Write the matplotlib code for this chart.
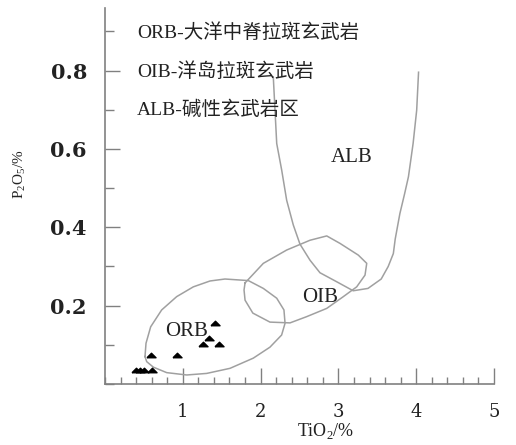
import numpy as np
import matplotlib; matplotlib.use("Agg"); import matplotlib.pyplot as plt
from matplotlib.ticker import MultipleLocator

# sample points (TiO2 %, P2O5 %)
tio2 = [0.40, 0.45, 0.50, 0.60, 0.59, 0.93, 1.41, 1.34, 1.26, 1.47]
p2o5 = [0.035, 0.035, 0.035, 0.035, 0.074, 0.074, 0.155, 0.117, 0.102, 0.102]

# discrimination field boundaries
orb_x = [0.514, 0.527, 0.587, 0.728, 0.921, 1.135, 1.35, 1.542, 1.842, 2.035, 2.207, 2.30, 2.314,
         2.27, 2.12, 1.906, 1.607, 1.307, 1.05, 0.793, 0.621, 0.536, 0.514]
orb_y = [0.070, 0.104, 0.146, 0.189, 0.223, 0.248, 0.263, 0.268, 0.264, 0.244, 0.219, 0.189, 0.155,
         0.125, 0.094, 0.066, 0.040, 0.027, 0.023, 0.029, 0.043, 0.057, 0.070]
oib_x = [1.80, 2.035, 2.335, 2.635, 2.85, 3.02, 3.256, 3.364, 3.342, 3.235, 3.063, 2.85, 2.593,
         2.378, 2.12, 1.90, 1.80, 1.787, 1.80]
oib_y = [0.258, 0.308, 0.342, 0.367, 0.378, 0.359, 0.329, 0.308, 0.278, 0.248, 0.223, 0.193, 0.172,
         0.156, 0.158, 0.181, 0.214, 0.240, 0.258]
alb_x = [2.163, 2.185, 2.207, 2.271, 2.335, 2.42, 2.506, 2.635, 2.763, 2.978, 3.19, 3.38, 3.55,
         3.64, 3.706, 3.73, 3.79, 3.85, 3.90, 3.96, 4.006, 4.03]
alb_y = [0.784, 0.699, 0.614, 0.546, 0.469, 0.406, 0.357, 0.316, 0.284, 0.261, 0.238, 0.244, 0.268,
         0.300, 0.333, 0.370, 0.435, 0.485, 0.529, 0.614, 0.699, 0.796]

legend_lines = ["ORB-大洋中脊拉斑玄武岩", "OIB-洋岛拉斑玄武岩", "ALB-碱性玄武岩区"]
fields = [("ORB", 1.05, 0.135), ("OIB", 2.76, 0.222), ("ALB", 3.17, 0.577)]

plt.rcParams["mathtext.fontset"] = "custom"
plt.rcParams["mathtext.rm"] = "Liberation Serif"
SERIF = ["Liberation Serif", "Noto Sans CJK SC"]
AX = "#808080"; LN = "#a0a0a0"; TX = "#222222"

fig = plt.figure(figsize=(5.16, 4.45), dpi=100)
ax = fig.add_axes([0.2035, 0.1371, 0.7539, 0.845])

for xs, ys in [(orb_x, orb_y), (oib_x, oib_y), (alb_x, alb_y)]:
    ax.plot(xs, ys, color=LN, lw=1.1)
tri = [(-1, -0.5), (1, -0.5), (0, 0.5), (-1, -0.5)]
ax.plot(tio2, p2o5, ls="none", marker=tri, ms=6.5, color="black")

for name, x, y in fields:
    ax.text(x, y, name, family=SERIF, fontsize=15, color=TX, ha="center", va="center")
for i, s in enumerate(legend_lines):
    fig.text(137 / 516, 1 - (33 + 38.5 * i) / 445, s, family=SERIF, fontsize=14, color=TX,
             ha="left", va="center")

ax.set_xlim(0, 5); ax.set_ylim(0, 0.96)
for sp in ["top", "right"]: ax.spines[sp].set_visible(False)
for sp in ["left", "bottom"]: ax.spines[sp].set_color(AX); ax.spines[sp].set_linewidth(1.2)
ax.xaxis.set_major_locator(MultipleLocator(1)); ax.xaxis.set_minor_locator(MultipleLocator(0.2))
ax.yaxis.set_major_locator(MultipleLocator(0.2)); ax.yaxis.set_minor_locator(MultipleLocator(0.1))
ax.tick_params(axis="x", which="major", direction="in", length=11.5, width=1, color=AX, pad=14)
ax.tick_params(axis="x", which="minor", direction="in", length=5, width=1, color=AX)
ax.tick_params(axis="y", which="major", direction="in", length=10.8, width=1, color=AX, pad=13)
ax.tick_params(axis="y", which="minor", direction="in", length=6.5, width=1, color=AX)
ax.set_xticks([1, 2, 3, 4, 5]); ax.set_xticklabels(["1", "2", "3", "4", "5"])
ax.set_yticks([0.2, 0.4, 0.6, 0.8]); ax.set_yticklabels(["0.2", "0.4", "0.6", "0.8"])
for lab in ax.get_xticklabels():
    lab.set_family("DejaVu Serif"); lab.set_fontsize(13); lab.set_color(TX)
for lab in ax.get_yticklabels():
    lab.set_family("DejaVu Serif"); lab.set_fontsize(15); lab.set_color(TX); lab.set_fontweight("bold")

fig.text(326 / 516, 1 - 431 / 445, "TiO$_\\mathregular{2}$/%", family=SERIF, fontsize=13, color=TX,
         ha="center", va="center")
fig.text(20 / 516, 1 - 174 / 445, "P$_\\mathregular{2}$O$_\\mathregular{5}$/%", family=SERIF, fontsize=11,
         color=TX, ha="center", va="center", rotation=90)

fig.savefig("out.png", dpi=100)
